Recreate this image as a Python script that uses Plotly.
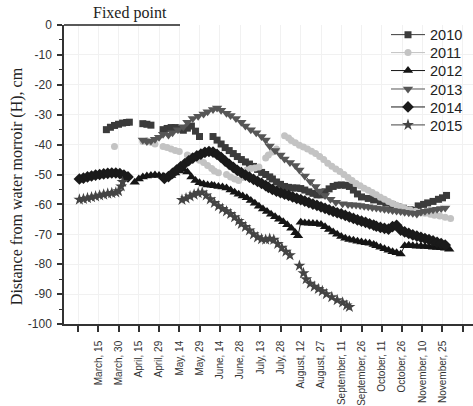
import plotly.graph_objects as go

# ---- data: x = days from the first (unlabelled) tick, y = distance (cm) ----
day_2010 = [21,24,27,30,33,36,38,None,48,51,54,None,63,66,69,72,75,78,81,84,87,90,None,
            100,103,106,109,112,115,118,121,124,127,130,133,136,139,142,144,147,150,153,156,
            159,162,165,168,171,174,177,180,183,186,189,192,195,198,201,204,207,210,215,219,
            224,228,233,237,241,246,249,252,256,259,263,267,270,273]
h_2010 = [-35,-34.2,-33.6,-33.2,-32.8,-32.6,-32.5,None,-33,-33.2,-33.5,None,
          -35,-34.6,-34.3,-34.3,-34.8,-35.2,-34.5,-33.8,-35.5,-37.3,None,
          -37.3,-38.5,-39.8,-41,-42,-43,-44,-45,-45.8,-46.5,-47.3,-48.3,-49.3,-50,-50.8,-51.5,
          -52.5,-53.3,-54,-54.3,-54.5,-54.5,-54.7,-55.2,-55.8,-56.3,-56.8,-56.8,-55.8,-54.8,
          -54,-53.6,-53.5,-53.6,-54,-55.2,-56.5,-57.5,-58,-58.5,-59,-59.6,-60.2,-60.8,-61.3,
          -61.8,-62,-60.5,-60,-59.5,-59,-58.3,-57.8,-57]

day_2011 = [27,None,48,51,54,57,None,63,66,69,72,75,None,81,84,87,90,93,96,99,101,104,None,
            110,113,116,119,122,125,128,131,134,None,139,141,144,147,None,
            153,156,158,161,164,167,170,173,176,179,182,185,188,191,194,197,200,203,206,209,
            212,215,218,221,224,227,230,233,236,239,242,246,250,253,257,261,264,268,272,276]
h_2011 = [-40.6,None,-39,-38.8,-39.2,-39.8,None,-40.6,-41,-41.5,-42,-42.3,None,
          -43.5,-44,-44.6,-45.2,-46,-47,-48,-48.8,-49.4,None,
          -50,-50.8,-51.5,-52,-51,-48.5,-48,-47.8,-47.5,None,-44.5,-43.5,-42.5,-41.5,None,
          -37,-37.8,-38.6,-39.4,-40.2,-40.8,-41.5,-42.2,-43,-44,-45,-46.2,-47.2,-48.2,-49,
          -50,-51,-52,-53,-53.8,-54.6,-55.3,-56,-56.8,-57.6,-58.3,-59,-59.7,-60.3,-60.8,
          -61.4,-61.9,-62.3,-62.6,-63,-63.3,-63.6,-63.9,-64.3,-64.7]

day_2012 = [42,45,48,51,54,57,60,63,66,69,72,75,78,81,84,87,90,93,96,99,101,104,107,110,
            113,116,119,122,125,128,131,134,137,140,143,146,149,152,155,158,161,163,165,168,
            171,174,177,180,183,186,189,192,195,198,201,204,207,210,213,216,219,221,224,227,
            230,233,236,239,242,245,248,251,254,257,260,263,266,269,272,275]
h_2012 = [-52.6,-51.5,-50.8,-50.5,-50.3,-50.2,-50.3,-50.6,-50.8,-50.3,-49.5,-48.8,-48.3,
          -49.2,-50.8,-52,-52.8,-53.2,-53.5,-53.6,-53.8,-54,-54.2,-54.5,-55.2,-55.9,-56.6,
          -57.2,-57.8,-58.7,-59.6,-60.6,-61.5,-62.4,-63.3,-64.1,-65,-65.8,-66.8,-68,-69.5,
          -70.5,-66,-66.2,-66.3,-66.4,-66.5,-66.7,-67.5,-68.4,-69.2,-70,-70.7,-71.3,-71.7,
          -72,-72.3,-72.6,-72.8,-73,-73.4,-73.8,-74.3,-74.8,-75.3,-75.8,-76.2,-76.6,-73.8,
          -73.7,-73.8,-74,-74,-74.1,-74.2,-74.3,-74.4,-74.5,-74.7,-75]

day_2013 = [48,51,54,57,60,63,67,70,74,78,81,85,89,93,96,100,103,106,110,113,117,121,124,
            128,132,136,139,142,146,150,153,157,161,164,168,172,176,179,183,187,191,196,
            200,203,206,209,212,215,218,221,224,227,230,233,236,239,242,245,248,251,254,257,
            260,263,266,269,272]
h_2013 = [-38.5,-39,-38.8,-38.2,-37.5,-36.5,-36.8,-36,-35,-34,-32.5,-31.3,-30.5,-29.8,-29,
          -28.3,-27.8,-28.5,-29.5,-30.3,-31.3,-32.5,-33.8,-35,-36,-37.3,-38.5,-40.5,-42,
          -43.5,-44.8,-46,-47,-48.5,-50.5,-52.3,-54,-55.5,-57,-58.3,-59.3,-59.8,
          -60,-60.1,-60.2,-60.4,-60.6,-60.8,-61,-61.2,-61.4,-61.6,-61.8,-62,-62.2,-62.4,
          -62.6,-62.8,-63,-63.2,-62.6,-62.3,-62,-61.8,-61.6,-61.4,-61.2]

day_2014 = [1,4,7,10,13,16,19,22,25,28,31,34,37,None,64,67,70,73,76,79,82,85,88,91,94,97,
            100,103,106,109,112,115,118,121,124,127,130,133,136,139,141,144,147,150,153,156,
            159,162,165,168,171,174,177,180,183,186,189,192,195,198,201,204,207,210,213,216,
            219,221,224,227,230,233,236,239,242,245,248,251,254,257,260,263,266,269,272]
h_2014 = [-51.5,-51.2,-50.8,-50.5,-50.2,-50,-49.8,-49.6,-49.5,-49.5,-49.7,-50.2,-50.8,None,
          -51.3,-50.7,-49.6,-48.5,-47.4,-46.4,-45.4,-44.5,-43.8,-43.2,-42.6,-42.3,-42.5,
          -43.3,-44.3,-45.5,-46.6,-47.6,-48.6,-49.4,-50.2,-50.9,-51.6,-52.3,-53,-53.7,-54.3,
          -55,-55.6,-56.1,-56.6,-57,-57.5,-58,-58.4,-58.9,-59.4,-59.9,-60.3,-60.8,-61.3,
          -61.8,-62.3,-62.8,-63.2,-63.7,-64.2,-64.7,-65.2,-65.6,-66,-66.5,-66.9,-67.3,-67.7,
          -68,-68.3,-67.4,-67,-68.6,-69.2,-69.7,-70.2,-70.6,-71,-71.4,-71.8,-72.2,-72.7,
          -73.1,-73.6]

day_2015 = [1,4,7,10,13,16,19,22,25,28,30,32,33,None,77,80,83,86,89,92,95,98,101,104,107,
            110,113,116,119,121,124,127,130,133,136,139,142,145,148,151,154,157,None,
            164,167,169,172,175,178,181,184,188,192,196,199,201]
h_2015 = [-58.4,-58.2,-57.9,-57.6,-57.3,-57,-56.7,-56.4,-56.2,-56,-55.6,-54,-52.5,None,
          -58.5,-58,-57.3,-56.7,-56.2,-56,-57,-58.3,-59.5,-60.6,-61.5,-62.3,-63.2,-64.3,
          -65.5,-66.5,-67.5,-68.7,-70,-71,-71.6,-71.8,-71.5,-71.8,-73.2,-74.5,-75.8,-77,None,
          -80.5,-83,-85,-86.5,-87.5,-88.3,-89,-90,-91,-92,-92.8,-93.8,-94.3]

tick_days = [0,15,30,45,60,75,90,105,120,135,150,165,180,195,210,225,240,255,270,285]
tick_labels = ["", "March, 15", "March, 30", "April, 15", "April, 29", "May, 14", "May, 29",
               "June, 14", "June, 28", "July, 13", "July, 28", "August, 12", "August, 27",
               "September, 11", "September, 26", "October, 11", "October, 26",
               "November, 10", "November, 25", ""]

y_ticks = [0, -10, -20, -30, -40, -50, -60, -70, -80, -90, -100]
y_labels = ["0", "-10", "-20", "-30", "-40", "-50", "-60", "-70", "-80", "-90", "-100"]

series = [
    ("2010", day_2010, h_2010, "square", 7, "#3b3b3b"),
    ("2011", day_2011, h_2011, "circle", 7, "#c3c3c3"),
    ("2012", day_2012, h_2012, "triangle-up", 9, "#151515"),
    ("2013", day_2013, h_2013, "triangle-down", 9, "#565656"),
    ("2014", day_2014, h_2014, "diamond", 9, "#1a1a1a"),
    ("2015", day_2015, h_2015, "star", 9, "#444444"),
]

for name, xs, ys, *_ in series:
    assert len(xs) == len(ys), name

W, H = 473, 406
ML, MR, MT, MB = 64, 0, 25, 73
pw = W - ML - MR
ph = H - MT - MB

legend_rows = [35, 53.5, 72, 91, 109.5, 128]  # pixel centres of legend rows

fig = go.Figure()
layout_legends = {}
for i, (name, xs, ys, sym, size, col) in enumerate(series):
    lg = "legend" if i == 0 else f"legend{i+1}"
    fig.add_trace(go.Scatter(
        x=xs, y=ys, name=name, mode="lines+markers", connectgaps=False,
        line=dict(color=col, width=1),
        marker=dict(symbol=sym, size=size, color=col, line=dict(width=0)),
        legend=lg,
    ))
    layout_legends[lg] = dict(
        x=(386 - ML) / pw, xanchor="left",
        y=1 - (legend_rows[i] - MT) / ph, yanchor="middle",
        bgcolor="rgba(0,0,0,0)", borderwidth=0,
        itemwidth=34,
        font=dict(size=14.5, color="#222222", family="Liberation Sans, Arial, sans-serif"),
    )

fig.update_layout(
    width=W, height=H,
    margin=dict(l=ML, r=MR, t=MT, b=MB, pad=0),
    paper_bgcolor="white", plot_bgcolor="white",
    font=dict(family="Liberation Sans, Arial, sans-serif", color="#333333"),
    showlegend=True,
    xaxis=dict(
        range=[-10.4, 292.6],
        tickmode="array", tickvals=tick_days, ticktext=tick_labels,
        tickangle=-90, ticklabelstandoff=5,
        tickfont=dict(size=10, family="Liberation Sans Narrow, Arial Narrow, Liberation Sans, Arial", color="#333333"),
        ticks="outside", ticklen=6, tickwidth=1.5, tickcolor="#333333",
        showline=True, linecolor="#333333", linewidth=1.5,
        showgrid=True, gridcolor="#f1f1f1", gridwidth=1,
        zeroline=False, mirror=False,
    ),
    yaxis=dict(
        range=[-100, 0],
        tickmode="array", tickvals=y_ticks, ticktext=y_labels,
        tickfont=dict(size=12, color="#333333"),
        ticklabelstandoff=3,
        ticks="outside", ticklen=5, tickwidth=1.5, tickcolor="#333333",
        minor=dict(tickmode="linear", tick0=0, dtick=5, ticks="outside", ticklen=3, tickwidth=1,
                   tickcolor="#333333", showgrid=False),
        showline=True, linecolor="#333333", linewidth=1.5,
        showgrid=True, gridcolor="#f1f1f1", gridwidth=1,
        zeroline=False, mirror=False,
    ),
    **layout_legends,
)

# Y-axis title (serif) placed as annotation
fig.add_annotation(
    text="Distance from water morroir (H), cm",
    xref="paper", yref="paper",
    x=(17 - ML) / pw, y=1 - (191 - MT) / ph,
    xanchor="center", yanchor="middle",
    textangle=-90, showarrow=False,
    font=dict(family="Liberation Serif, Times New Roman, serif", size=16, color="#222222"),
)

# "Fixed point" label and line at H = 0
fig.add_annotation(
    text="Fixed point",
    xref="paper", yref="paper",
    x=(130 - ML) / pw, y=1 + (MT - 13) / ph,
    xanchor="center", yanchor="middle", showarrow=False,
    font=dict(family="Liberation Serif, Times New Roman, serif", size=16, color="#222222"),
)
fig.add_shape(
    type="line", xref="paper", yref="paper",
    x0=0, x1=(180 - ML) / pw, y0=1, y1=1,
    line=dict(color="#222222", width=1.5),
)

fig.write_html("out.html")
